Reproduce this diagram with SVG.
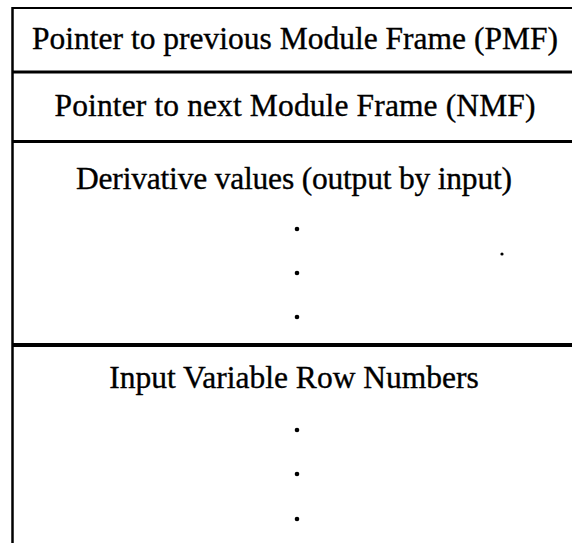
<svg xmlns="http://www.w3.org/2000/svg" width="572" height="543" viewBox="0 0 572 543">
  <style>
    .rule { stroke: #000; fill: none; }
    .label { font-family: "Liberation Serif", "Times New Roman", serif; font-size: 31.5px; fill: #000; stroke: #000; stroke-width: 0.35px; text-anchor: middle; }
    .dot { fill: #000; }
  </style>
  <rect x="0" y="0" width="572" height="543" fill="#fff"/>

  <!-- frame rules: left edge, top edge and the row separators -->
  <g id="rules">
    <line class="rule" x1="12.5" y1="7" x2="12.5" y2="543" stroke-width="2.5"/>
    <line class="rule" x1="12" y1="8" x2="572" y2="8" stroke-width="2"/>
    <line class="rule" x1="12" y1="72" x2="572" y2="72" stroke-width="3"/>
    <line class="rule" x1="12" y1="141.5" x2="572" y2="141.5" stroke-width="3"/>
    <line class="rule" x1="12" y1="345" x2="572" y2="345" stroke-width="4"/>
  </g>

  <g id="pmf">
    <text class="label" x="295" y="49">Pointer to previous Module Frame (PMF)</text>
  </g>

  <g id="nmf">
    <text class="label" x="295" y="116" textLength="481" lengthAdjust="spacing">Pointer to next Module Frame (NMF)</text>
  </g>

  <g id="derivatives">
    <text class="label" x="294" y="189" textLength="436" lengthAdjust="spacing">Derivative values (output by input)</text>
    <circle class="dot" cx="297" cy="229" r="2.3"/>
    <circle class="dot" cx="297" cy="273" r="2.3"/>
    <circle class="dot" cx="297" cy="317" r="2.3"/>
    <circle class="dot" cx="502" cy="254" r="1.6"/>
  </g>

  <g id="input-rows">
    <text class="label" x="294" y="388">Input Variable Row Numbers</text>
    <circle class="dot" cx="297" cy="430" r="2.3"/>
    <circle class="dot" cx="297" cy="474" r="2.3"/>
    <circle class="dot" cx="297" cy="519" r="2.3"/>
  </g>

  <g id="connectors"/>
</svg>
